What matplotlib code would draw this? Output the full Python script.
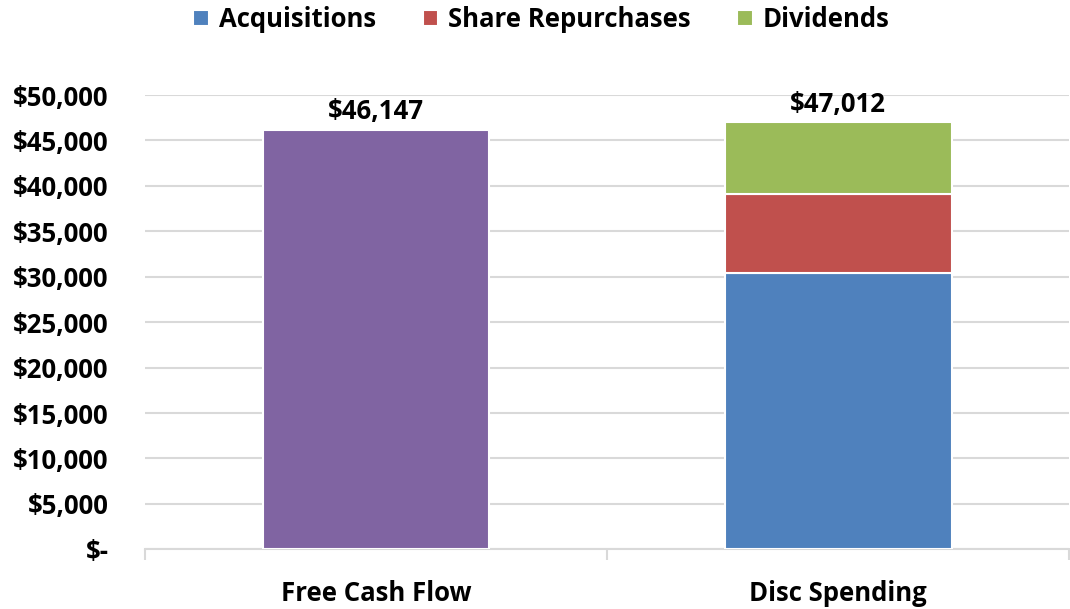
import numpy as np
import matplotlib.pyplot as plt

categories = ['Free Cash Flow', 'Disc Spending']
free_cash_flow = [46147, 0]
acquisitions = [0, 30400]
repurchases = [0, 8700]
dividends = [0, 7912]
totals = [46147, 47012]
yticks = np.arange(0, 50001, 5000)

plt.rcParams['font.family'] = ['Open Sans', 'DejaVu Sans']
plt.rcParams['font.weight'] = 'bold'
fs = 18.5

fig = plt.figure(figsize=(10.7, 6.09), dpi=100)
ax = fig.add_axes([0.1355, 0.098, 0.864, 0.746])

x = np.arange(len(categories))
w = 0.49
ax.bar(x[0], free_cash_flow[0], w, color='#8064a2', edgecolor='white', linewidth=1.5, zorder=3)
ax.bar(x[1], acquisitions[1], w, color='#4f81bd', edgecolor='white', linewidth=1.5,
       label='Acquisitions', zorder=3)
ax.bar(x[1], repurchases[1], w, bottom=acquisitions[1], color='#c0504d', edgecolor='white',
       linewidth=1.5, label='Share Repurchases', zorder=3)
ax.bar(x[1], dividends[1], w, bottom=acquisitions[1] + repurchases[1], color='#9bbb59',
       edgecolor='white', linewidth=1.5, label='Dividends', zorder=3)

for i, t in enumerate(totals):
    ax.text(x[i], t + 500, f'${t:,}', ha='center', va='bottom', fontsize=fs, fontweight='bold')

ax.set_xlim(-0.5, 1.5)
ax.set_ylim(0, 50000)
ax.set_yticks(yticks)
ax.set_yticklabels(['$-' if v == 0 else f'${v:,}' for v in yticks], fontweight='bold')
ax.grid(axis='y', color='#d9d9d9', linewidth=1.5, zorder=0)

ax.set_xticks([-0.5, 0.5, 1.5])
ax.set_xticklabels([])
ax.set_xticks(x, minor=True)
ax.set_xticklabels(categories, minor=True, fontweight='bold')
ax.tick_params(axis='x', which='major', length=8, color='#d9d9d9', width=1.5)
ax.tick_params(axis='x', which='minor', length=0, pad=22, labelsize=fs)
ax.tick_params(axis='y', length=0, pad=26, labelsize=fs)
for s in ['top', 'right', 'left']:
    ax.spines[s].set_visible(False)
ax.spines['bottom'].set_color('#d9d9d9')
ax.spines['bottom'].set_linewidth(1.5)

ax.legend(loc='lower center', bbox_to_anchor=(0.429, 1.113), ncol=3, frameon=False,
          prop={'size': fs, 'weight': 'bold'}, handlelength=0.6, handleheight=0.6,
          handletextpad=0.4, columnspacing=1.8, borderaxespad=0)

fig.savefig('out.png', dpi=100)
